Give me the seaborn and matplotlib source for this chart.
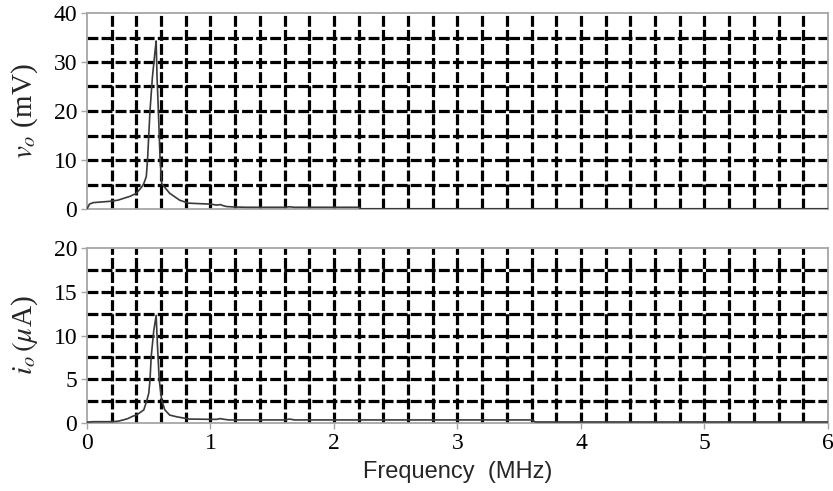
import numpy as np
import pandas as pd
import matplotlib
matplotlib.use("Agg")
import matplotlib.pyplot as plt
import seaborn as sns

# ---- data ----
freq_v = [0, 0.02, 0.05, 0.1, 0.15, 0.2, 0.25, 0.3, 0.35, 0.4, 0.44, 0.46, 0.48, 0.49,
          0.51, 0.53, 0.55, 0.56, 0.567, 0.578, 0.592, 0.605, 0.63, 0.67, 0.75, 0.82,
          0.9, 1.0, 1.05, 1.08, 1.1, 1.13, 1.2, 1.3, 1.5, 1.6, 1.64, 1.68, 2.0, 2.2,
          2.22, 3.0, 4.0, 5.0, 6.0]
vo_mV = [0, 1.0, 1.3, 1.4, 1.5, 1.6, 1.8, 2.2, 2.6, 3.2, 4.4, 5.2, 6.6, 10,
         20, 27, 32, 34.3, 27, 20, 10, 5.2, 4.4, 3.2, 1.8, 1.2,
         1.1, 1.0, 0.8, 0.9, 0.7, 0.5, 0.4, 0.35, 0.35, 0.35, 0.45, 0.35, 0.35, 0.35,
          0.05, 0.05, 0.05, 0.05, 0.05]

freq_i = [0, 0.05, 0.1, 0.2, 0.25, 0.29, 0.33, 0.375, 0.4, 0.46, 0.485, 0.5, 0.51,
          0.52, 0.54, 0.56, 0.57, 0.585, 0.605, 0.63, 0.67, 0.73, 0.83, 1.0, 1.05,
          1.08, 1.11, 1.15, 1.6, 1.64, 1.68, 2.0, 3.0, 3.6, 3.63, 4.0, 5.0, 6.0]
io_uA = [0.1, 0.15, 0.15, 0.15, 0.2, 0.34, 0.5, 0.8, 0.9, 1.5, 2.6, 3.4, 4.9,
         7.6, 10.5, 12.3, 9.0, 4.9, 2.6, 1.5, 0.9, 0.7, 0.45, 0.42, 0.42,
         0.5, 0.42, 0.35, 0.35, 0.45, 0.35, 0.35, 0.35, 0.35, 0.12, 0.12, 0.12, 0.12]

x_ticks = [0, 1, 2, 3, 4, 5, 6]
v_ticks = [0, 10, 20, 30, 40]
i_ticks = [0, 5, 10, 15, 20]
x_grid = [round(0.2 * k, 1) for k in range(1, 30)]
v_grid = [5, 10, 15, 20, 25, 30, 35]
i_grid = [2.5, 5, 7.5, 10, 12.5, 15, 17.5]

df_v = pd.DataFrame({"f": freq_v, "v": vo_mV})
df_i = pd.DataFrame({"f": freq_i, "i": io_uA})

sns.set_theme(style="white")
plt.rcParams["font.family"] = ["Liberation Serif", "DejaVu Serif"]
plt.rcParams["mathtext.fontset"] = "stix"

fig = plt.figure(figsize=(8.33, 4.91), dpi=100)
L, R = 87 / 833, 828 / 833
ax1 = fig.add_axes([L, 1 - 209 / 491, R - L, (209 - 13) / 491])
ax2 = fig.add_axes([L, 1 - 423 / 491, R - L, (423 - 248) / 491])

spine_c = "#a6a6a6"
grid_kw = dict(color="black", lw=2.3, linestyle=(0, (3.4, 1.0)), zorder=1)

for ax, df, ycol, yt, yg, ylim in [
    (ax1, df_v, "v", v_ticks, v_grid, (0, 40)),
    (ax2, df_i, "i", i_ticks, i_grid, (0, 20)),
]:
    for xg in x_grid:
        ax.axvline(xg, **grid_kw)
    for g in yg:
        ax.axhline(g, **grid_kw)
    sns.lineplot(data=df, x="f", y=ycol, ax=ax, color="#3a3a3a", lw=1.2,
                 zorder=3, estimator=None, sort=False)
    ax.set_xlim(0, 6)
    ax.set_ylim(*ylim)
    ax.set_yticks(yt)
    ax.set_xticks(x_ticks)
    for s in ax.spines.values():
        s.set_color(spine_c)
        s.set_linewidth(1.3)
    ax.tick_params(axis="both", colors=spine_c, labelcolor="black",
                   labelsize=17, length=4, width=1.0, direction="out",
                   left=True, bottom=True, pad=3)
    ax.set_xlabel("")

ax1.tick_params(axis="x", bottom=False, labelbottom=False)
ax1.set_ylabel(r"$v_o$ (mV)", fontsize=21)
ax2.set_ylabel(r"$i_o\,(\mu$A)", fontsize=21)
ax2.set_xlabel("Frequency  (MHz)", fontsize=17, family=["Liberation Sans"], labelpad=5)
ax1.yaxis.set_label_coords(-0.064, 0.5)
ax2.yaxis.set_label_coords(-0.064, 0.5)

fig.savefig("out.png", dpi=100)
